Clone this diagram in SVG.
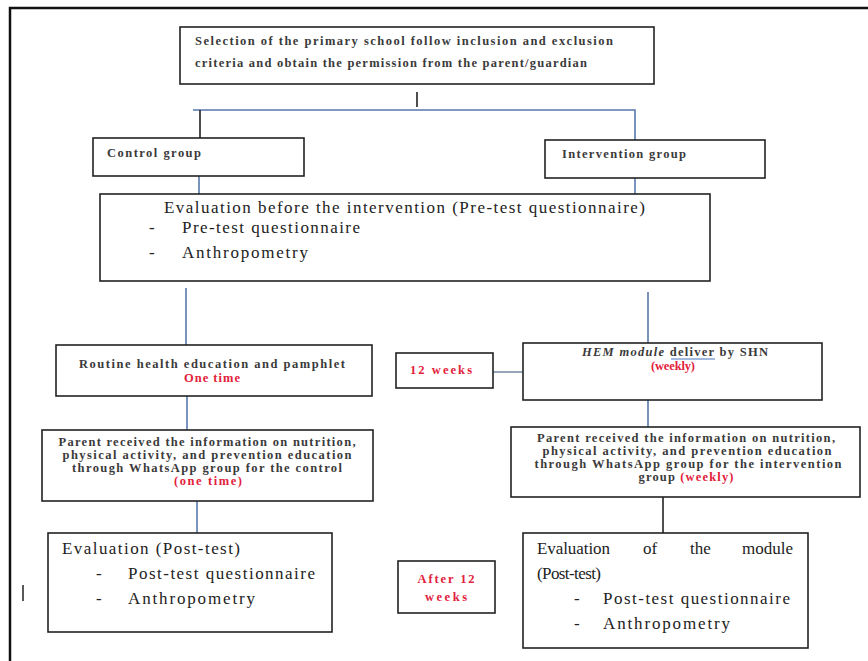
<svg xmlns="http://www.w3.org/2000/svg" width="868" height="661" viewBox="0 0 868 661">
<style>
.box{fill:#fff;stroke:#222;stroke-width:1.6}
.s{font-family:"Liberation Serif","Times New Roman",serif;font-size:12.5px;font-weight:bold;fill:#3a3a3a}
.L{font-family:"Liberation Serif","Times New Roman",serif;font-size:17px;fill:#222}
.red{fill:#e3213b}
.c{text-anchor:middle}
.bl{stroke:#5878ad;stroke-width:1.6;fill:none}
.bk{stroke:#222;stroke-width:1.6;fill:none}
</style>
<rect width="868" height="661" fill="#fff"/>
<path d="M10 661 V8 H868" fill="none" stroke="#111" stroke-width="2.5"/>
<line x1="23" y1="585" x2="23" y2="601" stroke="#222" stroke-width="1.5"/>
<g id="connectors">
<line class="bk" x1="417" y1="92" x2="417" y2="107"/>
<path class="bl" d="M193 110 H635 V140"/>
<line class="bk" x1="200" y1="110" x2="200" y2="138"/>
<line class="bl" x1="199" y1="176" x2="199" y2="194"/>
<line class="bl" x1="635" y1="178" x2="635" y2="194"/>
<line class="bl" x1="186" y1="288" x2="186" y2="345"/>
<line class="bl" x1="648" y1="292" x2="648" y2="343"/>
<line class="bl" x1="187" y1="396" x2="187" y2="430"/>
<line class="bl" x1="648" y1="400" x2="648" y2="427"/>
<line class="bl" x1="197" y1="501" x2="197" y2="533"/>
<line class="bk" x1="663" y1="497" x2="663" y2="533"/>
<line class="bl" x1="493" y1="372" x2="523" y2="372" style="stroke:#7d8fa8"/>
</g>
<g id="selection">
<rect class="box" x="180" y="27" width="474" height="57"/>
<text class="s" x="195" y="45" textLength="418">Selection of the primary school follow inclusion and exclusion</text>
<text class="s" x="195" y="67" textLength="392">criteria and obtain the permission from the parent/guardian</text>
</g>
<g id="control">
<rect class="box" x="93" y="138" width="211" height="38"/>
<text class="s" x="107" y="157" textLength="94">Control group</text>
</g>
<g id="intervention">
<rect class="box" x="545" y="140" width="220" height="38"/>
<text class="s" x="562" y="158" textLength="124">Intervention group</text>
</g>
<g id="pretest">
<rect class="box" x="100" y="194" width="610" height="87"/>
<text class="L" x="164" y="213" textLength="481">Evaluation before the intervention (Pre-test questionnaire)</text>
<text class="L" x="149" y="233">-</text>
<text class="L" x="182" y="233" textLength="178">Pre-test questionnaire</text>
<text class="L" x="149" y="258">-</text>
<text class="L" x="182" y="258" textLength="126">Anthropometry</text>
</g>
<g id="routine">
<rect class="box" x="56" y="345" width="316" height="51"/>
<text class="s c" x="212" y="368" textLength="266">Routine health education and pamphlet</text>
<text class="s c red" x="212" y="382" textLength="56">One time</text>
</g>
<g id="weeks12">
<rect class="box" x="396" y="353" width="97" height="35"/>
<text class="s red" x="410" y="374" textLength="62">12 weeks</text>
</g>
<g id="hem">
<rect class="box" x="523" y="343" width="299" height="57"/>
<text class="s c" x="675" y="356" textLength="186"><tspan font-style="italic">HEM module</tspan> deliver by SHN</text>
<line x1="671" y1="359" x2="715" y2="359" stroke="#4472c4" stroke-width="1"/>
<text class="s c red" x="673" y="370" textLength="44">(weekly)</text>
</g>
<g id="parent-control">
<rect class="box" x="42" y="430" width="331" height="71"/>
<text class="s c" x="207" y="446" textLength="297">Parent received the information on nutrition,</text>
<text class="s c" x="207" y="459" textLength="289">physical activity, and prevention education</text>
<text class="s c" x="207" y="472" textLength="270">through WhatsApp group for the control</text>
<text class="s c red" x="208" y="485" textLength="68">(one time)</text>
</g>
<g id="parent-intervention">
<rect class="box" x="511" y="427" width="349" height="70"/>
<text class="s c" x="686" y="442" textLength="298">Parent received the information on nutrition,</text>
<text class="s c" x="687" y="455" textLength="289">physical activity, and prevention education</text>
<text class="s c" x="688" y="468" textLength="307">through WhatsApp group for the intervention</text>
<text class="s c" x="686" y="481" textLength="95">group <tspan class="red">(weekly)</tspan></text>
</g>
<g id="posttest-control">
<rect class="box" x="48" y="533" width="284" height="99"/>
<text class="L" x="62" y="554" textLength="178">Evaluation (Post-test)</text>
<text class="L" x="96" y="579">-</text>
<text class="L" x="128" y="579" textLength="187">Post-test questionnaire</text>
<text class="L" x="96" y="604">-</text>
<text class="L" x="128" y="604" textLength="127">Anthropometry</text>
</g>
<g id="after12">
<rect class="box" x="398" y="561" width="97" height="52"/>
<text class="s c red" x="446" y="583" textLength="57">After 12</text>
<text class="s c red" x="446" y="601" textLength="42">weeks</text>
</g>
<g id="posttest-intervention">
<rect class="box" x="523" y="533" width="285" height="115"/>
<text class="L" x="537" y="554" textLength="73">Evaluation</text>
<text class="L" x="643" y="554">of</text>
<text class="L" x="690" y="554">the</text>
<text class="L" x="793" y="554" text-anchor="end">module</text>
<text class="L" x="537" y="579" textLength="64">(Post-test)</text>
<text class="L" x="574" y="604">-</text>
<text class="L" x="603" y="604" textLength="187">Post-test questionnaire</text>
<text class="L" x="574" y="629">-</text>
<text class="L" x="603" y="629" textLength="127">Anthropometry</text>
</g>
</svg>
